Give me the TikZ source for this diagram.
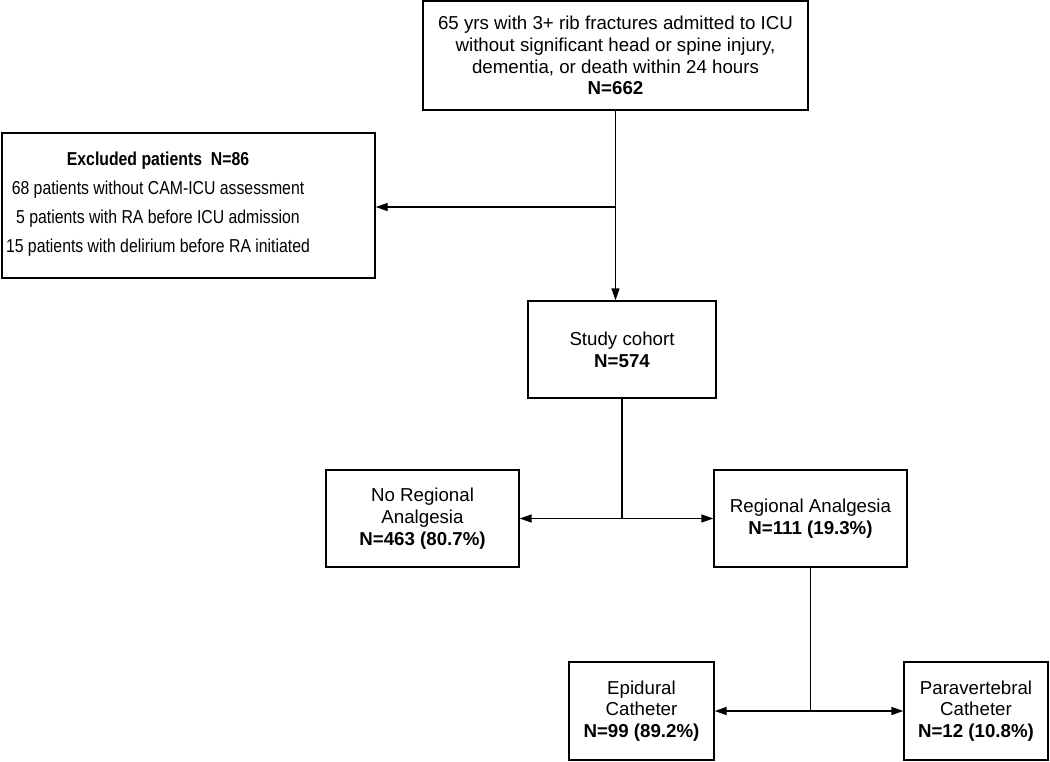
\documentclass[tikz,border=0pt]{standalone}
\usepackage{fontspec}
\setmainfont{Liberation Sans}
\newfontfamily\narrowsans[FakeStretch=0.845]{Liberation Sans}
\usetikzlibrary{arrows.meta,positioning}

\begin{document}
\begin{tikzpicture}[x=1pt,y=-1pt,
    box/.style={draw, line width=1.4pt, align=center, inner sep=0pt,
        font=\fontsize{18.7}{21.7}\selectfont},
    link/.style={line width=1.4pt},
    arr/.style={link, -{Triangle[length=12pt,width=8pt]}}]

            \useasboundingbox (0,0) rectangle (1050,761);

            % Draw boxes.
            \node[box, minimum width=385pt, minimum height=109pt] (top) at (615.5,55.5)
                {65 yrs with 3+ rib fractures admitted to ICU\\
                 without significant head or spine injury,\\
                 dementia, or death within 24 hours\\
                 \textbf{N=662}};
            \node[box, minimum width=373pt, minimum height=145pt] (excl) at (188.5,205.5) {};
            \node[align=center, font=\narrowsans\fontsize{18.7}{29}\selectfont] (excltext) at (158,204)
                {\textbf{Excluded patients\ \ N=86}\\
                 68 patients without CAM-ICU assessment\\
                 5 patients with RA before ICU admission\\
                 15 patients with delirium before RA initiated};
            \node[box, minimum width=188pt, minimum height=97pt] (cohort) at (622,349.5)
                {Study cohort\\ \textbf{N=574}};
            \node[box, minimum width=193pt, minimum height=97pt] (nora) at (422.5,518.5)
                {No Regional\\ Analgesia\\ \textbf{N=463 (80.7\%)}};
            \node[box, minimum width=193pt, minimum height=97pt] (ra) at (810.5,518.5)
                {Regional Analgesia\\ \textbf{N=111 (19.3\%)}};
            \node[box, minimum width=145pt, minimum height=98pt] (epi) at (641.5,711)
                {Epidural\\ Catheter\\ \textbf{N=99 (89.2\%)}};
            \node[box, minimum width=144pt, minimum height=98pt] (para) at (976,711)
                {Paravertebral\\ Catheter\\ \textbf{N=12 (10.8\%)}};

            % Draw connectors.
            \coordinate (split) at (615.5,207);
            \draw[arr] (top.south) -- (top.south |- cohort.north);
            \draw[arr] (split) -- (excl.east |- split);

            \draw[link] (cohort.south) -- (cohort.south |- nora.east) coordinate (fork);
            \draw[arr] (fork) -- (nora.east);
            \draw[arr] (fork) -- (ra.west);

            \draw[link] (ra.south) -- (ra.south |- epi.east) coordinate (fork2);
            \draw[arr] (fork2) -- (epi.east);
            \draw[arr] (fork2) -- (para.west);

\end{tikzpicture}
\end{document}
